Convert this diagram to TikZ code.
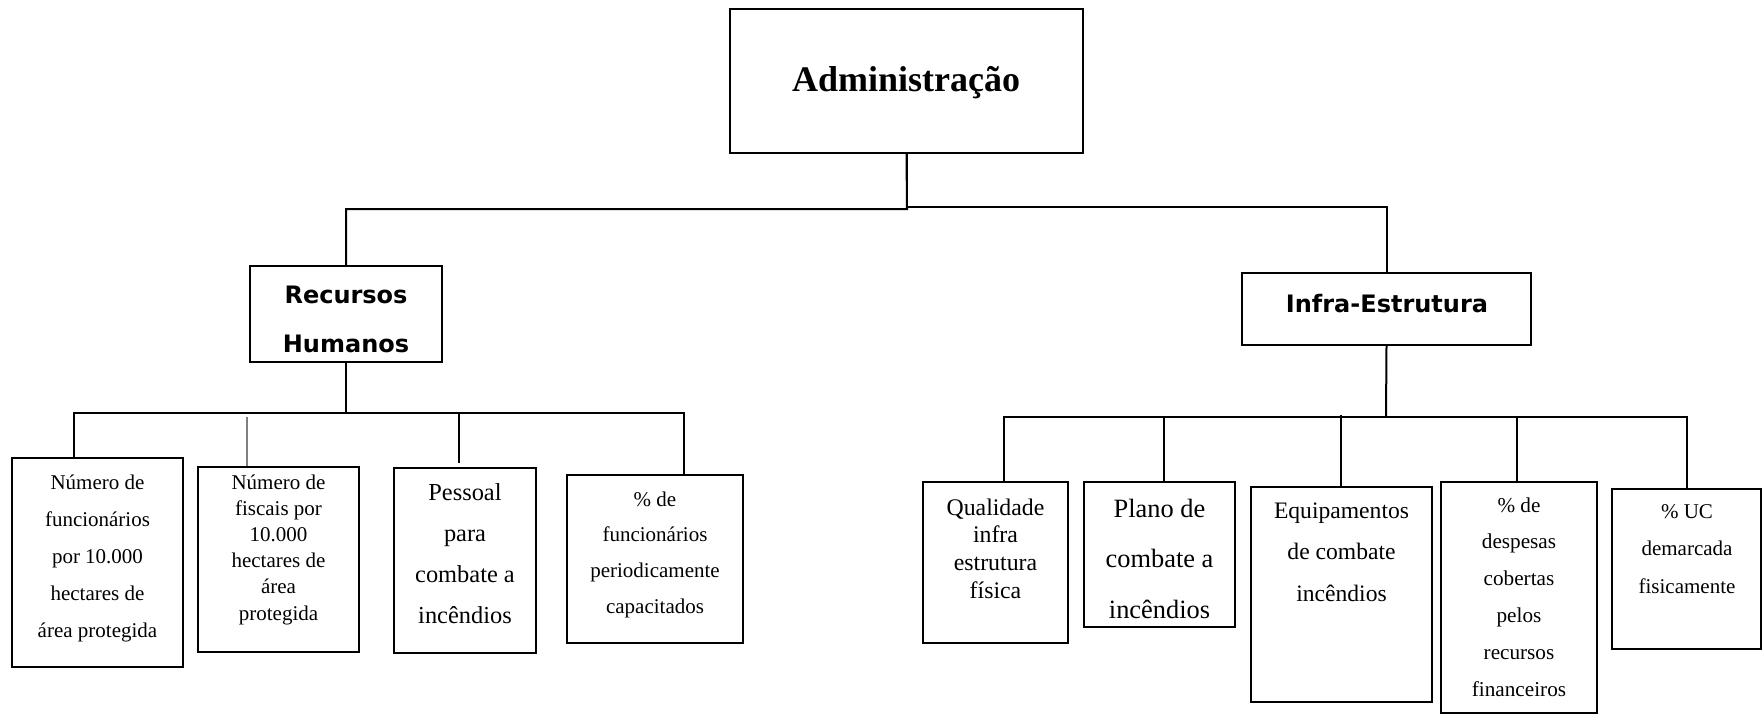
\documentclass[tikz,border=0pt]{standalone}
\usepackage{fontspec}
\setmainfont{Liberation Serif}
\newfontfamily\dvsans{DejaVu Sans}
\newcommand\mlt[3]{\parbox[t]{130pt}{\centering\fontsize{#1}{#2}\selectfont #3}}
\tikzset{
  box/.style={draw, rectangle, line width=1.1pt, inner sep=0pt},
  lbl/.style={anchor=base, inner sep=0pt},
  conn/.style={line width=1pt},
  thinconn/.style={line width=0.6pt, gray}
}
\begin{document}
\begin{tikzpicture}[x=0.5pt, y=-0.5pt]
\useasboundingbox (0,0) rectangle (1762,714);
% boxes
\node[box, minimum width=176.5pt, minimum height=72pt] (admin) at (906.5,81) {};
\node[box, minimum width=96pt, minimum height=48pt] (rh) at (346,314) {};
\node[box, minimum width=144.5pt, minimum height=36pt] (inf) at (1386.5,309) {};
\node[box, minimum width=85.5pt, minimum height=104.5pt] (b1) at (97.5,562.5) {};
\node[box, minimum width=80.5pt, minimum height=92.5pt] (b2) at (278.5,559.5) {};
\node[box, minimum width=71pt, minimum height=92.5pt] (b3) at (465,560.5) {};
\node[box, minimum width=88pt, minimum height=84pt] (b4) at (655,559) {};
\node[box, minimum width=72.5pt, minimum height=80.5pt] (c1) at (995.5,562.5) {};
\node[box, minimum width=75.5pt, minimum height=72.5pt] (c2) at (1159.5,554.5) {};
\node[box, minimum width=90.5pt, minimum height=107.5pt] (c3) at (1341.5,594.5) {};
\node[box, minimum width=78pt, minimum height=115.5pt] (c4) at (1519,597.5) {};
\node[box, minimum width=74.5pt, minimum height=80pt] (c5) at (1686.5,569) {};
% texts
\node[lbl] (tadmin) at (906,91) {\fontsize{18}{22}\selectfont\bfseries Administração};
\node[lbl] (trh) at (346,303) {\mlt{12}{24.5}{\dvsans\bfseries Recursos\\Humanos}};
\node[lbl] (tinf) at (1387,312) {\dvsans\fontsize{12}{14}\selectfont\bfseries Infra-Estrutura};
\node[lbl] (tb1) at (97.5,489) {\mlt{10.5}{18.5}{Número de\\funcionários\\por 10.000\\hectares de\\área protegida}};
\node[lbl] (tb2) at (278.5,489) {\mlt{10.5}{13.1}{Número de\\fiscais por\\10.000\\hectares de\\área\\protegida}};
\node[lbl] (tb3) at (465,500) {\mlt{12.2}{20.5}{Pessoal\\para\\combate a\\incêndios}};
\node[lbl] (tb4) at (655,506) {\mlt{10.5}{17.85}{\% de\\funcionários\\periodicamente\\capacitados}};
\node[lbl] (tc1) at (995.5,515) {\mlt{11.9}{13.9}{Qualidade\\infra\\estrutura\\física}};
\node[lbl] (tc2) at (1159.5,517) {\mlt{13.2}{25.25}{Plano de\\combate a\\incêndios}};
\node[lbl] (tc3) at (1341.5,518) {\mlt{11.8}{20.75}{Equipamentos\\de combate\\incêndios}};
\node[lbl] (tc4) at (1519,512) {\mlt{10.6}{18.4}{\% de\\despesas\\cobertas\\pelos\\recursos\\financeiros}};
\node[lbl] (tc5) at (1687,518) {\mlt{10.5}{18.75}{\% UC\\demarcada\\fisicamente}};
% connectors: top level
\coordinate (j0) at (907,209);
\draw[conn] (admin.south) -- (j0) -| (rh.north);
\draw[conn] (admin.south) |- (inf.north |- 0,207) -- (inf.north);
% Recursos Humanos
\coordinate (j1) at (346,413);
\draw[conn] (rh.south) -- (j1) -| (b1.north -| 74,0);
\draw[conn] (j1) -| (b4.north -| 684,0);
\coordinate (k2) at (247,417);
\draw[thinconn] (k2) -- (b2.north -| 247,0);
\coordinate (k3) at (459,414);
\coordinate (k3e) at (459,463);
\draw[conn] (k3) -- (k3e);
% Infra-Estrutura
\coordinate (j2) at (1386,417);
\coordinate (jl) at (1004,417);
\coordinate (jr) at (1687,417);
\draw[conn] (inf.south) -- (j2);
\draw[conn] (c1.north -| 1004,0) -- (jl) -- (jr) -- (c5.north -| 1687,0);
\draw[conn] (c2.north -| 1164,0) -- (1164,417);
\draw[conn] (c3.north -| 1341,0) -- (1341,415);
\draw[conn] (c4.north -| 1517,0) -- (1517,417);
\end{tikzpicture}
\end{document}
